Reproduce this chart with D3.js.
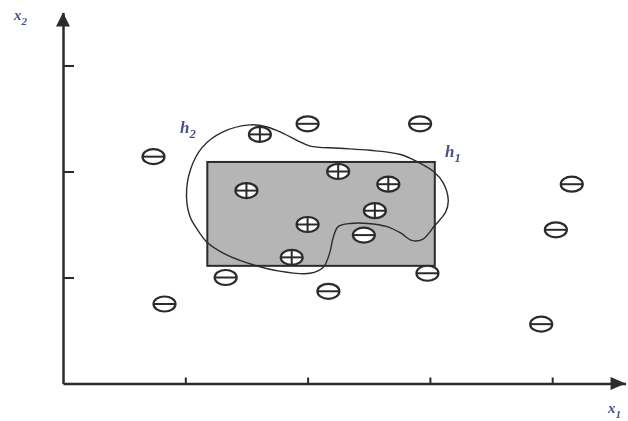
<!DOCTYPE html>
<html>
<head>
<meta charset="utf-8">
<script src="https://cdn.jsdelivr.net/npm/d3@7"></script>
<style>
  body { margin: 0; background: #fff; }
  svg { display: block; filter: blur(0.4px); }
</style>
</head>
<body>
<div id="chart"></div>
<script>
// chart size
const width = 628;
const height = 421;

// axis ticks (unlabelled)
const xTicks = [1, 2, 3, 4];
const yTicks = [1, 2, 3];

// negative examples (x1, x2)
const minusX = [0.74, 2.00, 2.92, 4.16, 4.03, 2.46, 1.33, 2.98, 2.17, 0.83, 3.91];
const minusY = [2.14, 2.45, 2.45, 1.88, 1.45, 1.40, 1.00, 1.04, 0.87, 0.75, 0.56];

// positive examples
const plusX = [1.61, 1.50, 2.25, 2.66, 2.55, 2.00, 1.87];
const plusY = [2.35, 1.82, 2.00, 1.88, 1.63, 1.50, 1.19];

// hypothesis h1: rectangle [x0, x1] x [y0, y1]
const h1X = [1.18, 3.04];
const h1Y = [1.11, 2.09];

// hypothesis h2: closed curve outline
const h2X = [1.53, 1.30, 1.14, 1.04, 1.01, 1.04, 1.10, 1.18, 1.31, 1.50, 1.77, 2.02,
  2.13, 2.18, 2.21, 2.25, 2.35, 2.49, 2.65, 2.76, 2.85, 2.94, 3.04, 3.13, 3.15, 3.11,
  3.03, 2.90, 2.76, 2.51, 2.26, 2.02, 1.92, 1.80, 1.67];
const h2Y = [2.44, 2.37, 2.23, 2.01, 1.76, 1.57, 1.45, 1.33, 1.23, 1.14, 1.06, 1.04,
  1.10, 1.23, 1.38, 1.48, 1.51, 1.51, 1.48, 1.42, 1.35, 1.36, 1.49, 1.62, 1.73, 1.89,
  2.00, 2.09, 2.16, 2.20, 2.22, 2.24, 2.29, 2.36, 2.42];

const ink = '#2b2b2b';
const labelColor = '#4a4f8e';

const svg = d3.select('#chart')
  .append('svg')
  .attr('width', width)
  .attr('height', height);

// scales
const x = d3.scaleLinear()
  .domain([0, 4.6])
  .range([63, 63 + 4.6 * 122.3]);

const y = d3.scaleLinear()
  .domain([0, 3.5])
  .range([383.5, 383.5 - 3.5 * 106]);

// h1 rectangle
svg.append('rect')
  .attr('x', x(h1X[0]))
  .attr('y', y(h1Y[1]))
  .attr('width', x(h1X[1]) - x(h1X[0]))
  .attr('height', y(h1Y[0]) - y(h1Y[1]))
  .attr('fill', '#b5b5b5')
  .attr('stroke', ink)
  .attr('stroke-width', 2);

// h2 curve
const h2Line = d3.line()
  .x(i => x(h2X[i]))
  .y(i => y(h2Y[i]))
  .curve(d3.curveCatmullRomClosed.alpha(0.5));

svg.append('path')
  .attr('d', h2Line(d3.range(h2X.length)))
  .attr('fill', 'none')
  .attr('stroke', ink)
  .attr('stroke-width', 1.4);

// axes
const xAxis = svg.append('g')
  .attr('transform', `translate(0, ${y(0)})`)
  .call(d3.axisBottom(x)
    .tickValues(xTicks)
    .tickSizeInner(-6)
    .tickSizeOuter(0)
    .tickFormat(''));

const yAxis = svg.append('g')
  .attr('transform', `translate(${x(0)}, 0)`)
  .call(d3.axisLeft(y)
    .tickValues(yTicks)
    .tickSizeInner(-11)
    .tickSizeOuter(0)
    .tickFormat(''));

[xAxis, yAxis].forEach(g => {
  g.select('.domain').attr('stroke', ink).attr('stroke-width', 2.5);
  g.selectAll('.tick line').attr('stroke', ink).attr('stroke-width', 2);
});

// arrow heads
const xEnd = x(4.6);
svg.append('path')
  .attr('d', `M${xEnd},${y(0)} L${xEnd - 15},${y(0) - 6.5} L${xEnd - 15},${y(0) + 6.5} Z`)
  .attr('fill', ink);

const yEnd = y(3.5);
svg.append('path')
  .attr('d', `M${x(0)},${yEnd} L${x(0) - 7},${yEnd + 14} L${x(0) + 7},${yEnd + 14} Z`)
  .attr('fill', ink);

// point markers
const rx = 11;
const ry = 7.5;

function drawMarkers(xs, ys, plus) {
  const g = svg.append('g')
    .selectAll('g')
    .data(d3.range(xs.length))
    .enter()
    .append('g')
    .attr('transform', i => `translate(${x(xs[i])}, ${y(ys[i])})`);

  g.append('ellipse')
    .attr('rx', rx)
    .attr('ry', ry)
    .attr('fill', '#fff')
    .attr('stroke', ink)
    .attr('stroke-width', 2.2);

  g.append('line')
    .attr('x1', -rx)
    .attr('x2', rx)
    .attr('stroke', ink)
    .attr('stroke-width', 2);

  if (plus) {
    g.append('line')
      .attr('y1', -ry)
      .attr('y2', ry)
      .attr('stroke', ink)
      .attr('stroke-width', 2);
  }
}

drawMarkers(minusX, minusY, false);
drawMarkers(plusX, plusY, true);

// labels
function subLabel(px, py, main, sub, size) {
  const t = svg.append('text')
    .attr('x', px)
    .attr('y', py)
    .attr('fill', labelColor)
    .attr('font-family', 'Liberation Serif, DejaVu Serif, serif')
    .attr('font-style', 'italic')
    .attr('font-weight', 'bold')
    .attr('font-size', size);
  t.append('tspan').text(main);
  t.append('tspan')
    .attr('dy', 5)
    .attr('font-size', size * 0.75)
    .text(sub);
}

subLabel(180, 133, 'h', '2', 17);
subLabel(445, 157, 'h', '1', 17);
subLabel(14, 20, 'x', '2', 15);
subLabel(608, 413, 'x', '1', 15);
</script>
</body>
</html>
